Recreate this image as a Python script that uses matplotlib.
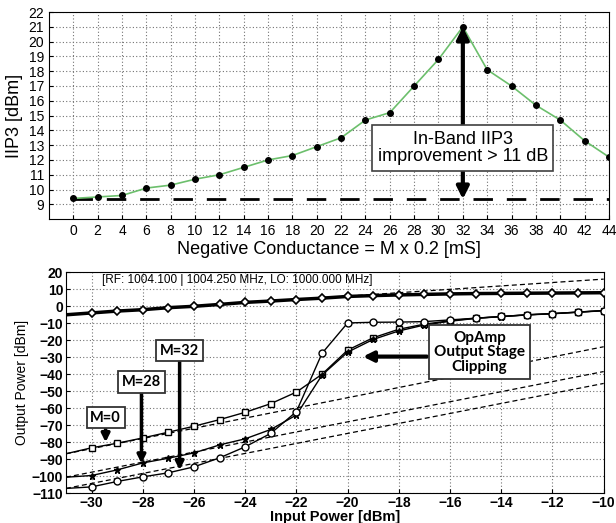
import matplotlib.pyplot as plt
import numpy as np

# top panel: IIP3 vs negative conductance setting M
m_vals = [0, 2, 4, 6, 8, 10, 12, 14, 16, 18, 20, 22, 24, 26, 28, 30, 32, 34, 36, 38, 40, 42, 44]
iip3 = [9.4, 9.5, 9.6, 10.1, 10.3, 10.7, 11.0, 11.5, 12.0, 12.3, 12.9, 13.5, 14.7, 15.2,
        17.0, 18.8, 21.0, 18.1, 17.0, 15.7, 14.7, 13.3, 12.2]
base_x = [0, 44]
base_iip3 = [9.35, 9.35]

# bottom panel: output power vs input power
p_in = [-31, -30, -29, -28, -27, -26, -25, -24, -23, -22, -21, -20, -19, -18, -17, -16,
        -15, -14, -13, -12, -11, -10]
p_fund = [-5.0, -3.9, -2.8, -2.0, -0.8, 0.0, 1.1, 2.3, 3.1, 4.0, 4.8, 5.8, 6.3, 6.7, 7.0,
          7.3, 7.5, 7.6, 7.7, 7.8, 7.9, 8.0]
im3_m0 = [-86.8, -83.3, -80.6, -77.5, -74.1, -70.6, -66.7, -62.4, -57.3, -50.5, -40.0,
          -25.8, -18.5, -13.5, -10.5, -8.5, -7.0, -6.0, -5.0, -4.3, -3.4, -2.5]
im3_m28 = [-100.6, -99.6, -96.3, -92.2, -89.4, -86.3, -81.6, -78.0, -72.5, -64.0, -40.5,
           -27.0, -19.5, -14.5, -11.0, -8.8, -7.1, -6.1, -5.1, -4.4, -3.5, -2.6]
im3_m32 = [-107.2, -106.3, -103.1, -100.4, -98.0, -94.5, -89.2, -82.7, -74.8, -62.0, -27.7,
           -9.8, -9.4, -9.3, -9.0, -8.0, -7.0, -6.0, -5.0, -4.3, -3.4, -2.5]
ext_x = [-31, -10]
ext_fund = [-5.0, 16.0]
ext_m0 = [-86.8, -23.8]
ext_m28 = [-100.6, -38.4]
ext_m32 = [-107.2, -45.4]

plt.rcParams['font.family'] = ['Liberation Sans', 'DejaVu Sans']

fig = plt.figure(figsize=(6.16, 5.23), dpi=100)
ax1 = fig.add_axes([0.0795, 0.581, 0.909, 0.396])
ax2 = fig.add_axes([0.107, 0.057, 0.873, 0.4223])

grid_kw = dict(color='0.45', linestyle=(0, (1, 2)), linewidth=0.8)

# ---- top ----
ax1.plot(base_x, base_iip3, color='k', lw=2, dashes=(7, 5), zorder=2)
ax1.plot(m_vals, iip3, color='#6cbf6c', lw=1.2, marker='o', ms=4, mfc='k', mec='k', zorder=3)
ax1.set_xlim(-2, 44)
ax1.set_ylim(8, 22)
ax1.set_xticks(np.arange(0, 45, 2))
ax1.set_yticks(np.arange(9, 23, 1))
ax1.grid(True, **grid_kw)
ax1.tick_params(direction='in', length=3, labelsize=10)
ax1.set_xlabel('Negative Conductance = M x 0.2 [mS]', fontsize=13, labelpad=2)
ax1.set_ylabel('IIP3 [dBm]', fontsize=13, labelpad=4)
ax1.annotate('', xy=(32, 21), xytext=(32, 9.35),
             arrowprops=dict(arrowstyle='<|-|>', lw=3, color='k', mutation_scale=18,
                             shrinkA=0, shrinkB=0), zorder=4)
ax1.text(32, 12.8, 'In-Band IIP3\nimprovement > 11 dB', ha='center', va='center', fontsize=13,
         linespacing=1.05, zorder=5,
         bbox=dict(boxstyle='square,pad=0.3', fc='white', ec='0.25', lw=1.2))

# ---- bottom ----
for ext in (ext_fund, ext_m0, ext_m28, ext_m32):
    ax2.plot(ext_x, ext, color='k', lw=0.9, dashes=(4, 2.5), zorder=2)
ax2.plot(p_in, p_fund, color='k', lw=2.5, marker='D', ms=4.5, mfc='white', mec='k', mew=1.2,
         markevery=range(1, len(p_in)), zorder=3)
ax2.plot(p_in, im3_m0, color='k', lw=1, marker='s', ms=4, mfc='white', mec='k',
         markevery=range(1, len(p_in)), zorder=3)
ax2.plot(p_in, im3_m28, color='k', lw=1, marker='*', ms=5, mfc='k', mec='k',
         markevery=range(1, len(p_in)), zorder=3)
ax2.plot(p_in, im3_m32, color='k', lw=1, marker='o', ms=5, mfc='white', mec='k',
         markevery=range(1, len(p_in)), zorder=3)
ax2.set_xlim(-31, -10)
ax2.set_ylim(-110, 20)
ax2.set_xticks(np.arange(-30, -9, 2))
ax2.set_yticks(np.arange(-110, 21, 10))
ax2.grid(True, **grid_kw)
ax2.tick_params(direction='in', length=3, labelsize=10, pad=2)
for lbl in ax2.get_xticklabels() + ax2.get_yticklabels():
    lbl.set_fontweight('bold')
ax2.set_xlabel('Input Power [dBm]', fontsize=10.5, fontweight='bold', labelpad=0)
ax2.set_ylabel('Output Power [dBm]', fontsize=10, labelpad=2)

ax2.text(-29.6, 15.5, '[RF: 1004.100 | 1004.250 MHz, LO: 1000.000 MHz]', fontsize=8.5,
         ha='left', va='center')

box_kw = dict(boxstyle='square,pad=0.25', fc='white', ec='0.2', lw=1.3)
arr_kw = dict(arrowstyle='-|>', lw=2.5, color='k', mutation_scale=12, shrinkA=0, shrinkB=0)
for label, x, y_box, y_tip in (('M=0', -29.45, -65.6, -80.0),
                                ('M=28', -28.05, -44.6, -92.5),
                                ('M=32', -26.56, -26.2, -96.4)):
    ax2.annotate('', xy=(x, y_tip), xytext=(x, y_box - 4), arrowprops=arr_kw, zorder=4)
    ax2.text(x, y_box, label, ha='center', va='center', fontsize=10.5, fontweight='bold',
             family=['Lato', 'DejaVu Sans'], bbox=box_kw, zorder=5)

ax2.annotate('', xy=(-19.4, -29.6), xytext=(-16.9, -29.6),
             arrowprops=dict(arrowstyle='-|>', lw=3, color='k', mutation_scale=15,
                             shrinkA=0, shrinkB=0), zorder=4)
ax2.text(-14.85, -27.1, 'OpAmp\nOutput Stage\nClipping', ha='center', va='center',
         fontsize=11, fontweight='bold', family=['Lato', 'DejaVu Sans'], linespacing=1.05,
         bbox=dict(boxstyle='square,pad=0.35', fc='white', ec='0.2', lw=1.3), zorder=5)

fig.savefig('out.png', dpi=100)
